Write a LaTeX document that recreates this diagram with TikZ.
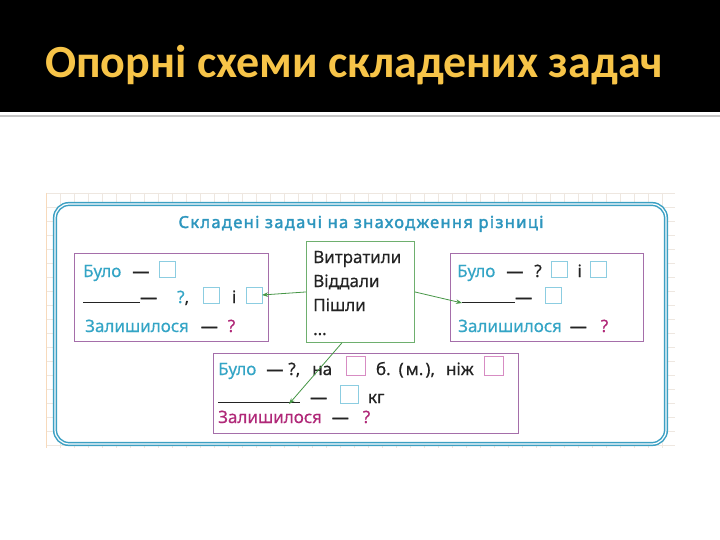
\documentclass[tikz,border=0pt]{standalone}
\usepackage{fontspec}
\setmainfont{Noto Sans}
\newfontfamily\titlefont{Carlito}
\usetikzlibrary{arrows.meta,calc}
\definecolor{gold}{RGB}{247,196,72}
\definecolor{tcyan}{RGB}{52,165,198}
\definecolor{hcyan}{RGB}{45,150,190}
\definecolor{tmag}{RGB}{176,40,120}
\definecolor{purp}{RGB}{165,110,170}
\definecolor{grn}{RGB}{110,175,110}
\definecolor{arrg}{RGB}{70,150,70}
\definecolor{sqc}{RGB}{140,205,225}
\definecolor{sqp}{RGB}{215,140,195}
\definecolor{gridc}{RGB}{238,231,224}
\definecolor{gridedge}{RGB}{247,218,188}
\definecolor{frameD}{RGB}{60,160,195}
\definecolor{tdark}{RGB}{35,35,35}
\newcommand\sqb[2][15pt]{{\setlength\fboxsep{0pt}\setlength\fboxrule{0.9pt}\fcolorbox{#2}{white}{\rule{0pt}{#1}\hspace{#1}}}}
\newcommand\dsh{{\addfontfeature{FakeBold=2.5}—}}
\newcommand\ul[1]{\rule{#1}{0.9pt}}
\tikzset{
  schbox/.style={draw=purp, line width=0.9pt, anchor=north west, inner sep=0pt},
  txt/.style={anchor=base west, inner sep=0pt, text=tdark, font=\fontsize{17}{20}\selectfont\addfontfeature{FakeBold=0.4}},
  arr/.style={draw=arrg, line width=0.8pt, -{Stealth[length=6pt,width=4.5pt]}}
}
\begin{document}
\begin{tikzpicture}[x=1pt,y=-1pt]
\useasboundingbox (0,0) rectangle (720,540);
\fill[white] (0,0) rectangle (720,540);
\fill[black] (0,0) rectangle (720,112);
\draw[gray!45, line width=2pt] (0,116) -- (720,116);
\node[anchor=base west, text=gold, font=\titlefont\bfseries\fontsize{46}{56}\selectfont, inner sep=0pt] (title) at (45,78) {Опорні схеми складених задач};
% grid paper
\foreach \x in {60,74,...,675} \draw[gridc, line width=0.6pt] (\x,193) -- (\x,448);
\foreach \y in {193,207,...,448} \draw[gridc, line width=0.6pt] (46,\y) -- (675,\y);
\draw[gridedge, line width=0.8pt] (46,193) -- (46,448);
% frame
\draw[frameD, line width=1.5pt, double=white, double distance=1.2pt, fill=white, rounded corners=14pt] (55,204) rectangle (666,444);
\node[anchor=base, text=hcyan, inner sep=0pt, font=\fontsize{16.5}{19}\selectfont\addfontfeature{FakeBold=2,LetterSpace=8}] (head) at (361,228) {Складені задачі на знаходження різниці};
% boxes
\node[schbox, minimum width=194pt, minimum height=88pt] (lbox) at (74,253) {};
\node[schbox, minimum width=193pt, minimum height=88pt] (rbox) at (450,253) {};
\node[schbox, minimum width=305pt, minimum height=80pt] (bbox) at (213,353) {};
\node[draw=grn, line width=0.9pt, anchor=north west, inner sep=0pt, minimum width=108pt, minimum height=101pt] (mid) at (306,241) {};
% middle text
\node[anchor=base west, inner sep=0pt, align=left, text=tdark, font=\fontsize{17}{24}\selectfont\addfontfeature{FakeBold=0.4}] (midtxt) at (313,335) {Витратили\\Віддали\\Пішли\\…};
% left box
\node[txt] (l1) at (83,277) {\textcolor{tcyan}{Було}\hspace{11pt}\dsh\hspace{10pt}\sqb{sqc}};
\node[txt] (l2) at (83,303) {\ul{57pt}\dsh\hspace{20pt}\textcolor{tcyan}{?},\hspace{14pt}\sqb{sqc}\hspace{12pt}і\hspace{10pt}\sqb{sqc}};
\node[txt] (l3) at (85,332) {\textcolor{tcyan}{Залишилося}\hspace{12pt}\dsh\hspace{10pt}\textcolor{tmag}{?}};
% right box
\node[txt] (r1) at (457,277) {\textcolor{tcyan}{Було}\hspace{11pt}\dsh\hspace{11pt}?\hspace{9pt}\sqb{sqc}\hspace{10pt}і\hspace{8pt}\sqb{sqc}};
\node[txt] (r2) at (462,303) {\ul{53pt}\dsh\hspace{13pt}\sqb{sqc}};
\node[txt] (r3) at (458,332) {\textcolor{tcyan}{Залишилося}\hspace{8pt}\dsh\hspace{14pt}\textcolor{tmag}{?}};
% bottom box
\node[txt] (b1) at (218,375) {\textcolor{tcyan}{Було}\hspace{10pt}\dsh\hspace{5pt}?,\hspace{12pt}на\hspace{14pt}\sqb[18pt]{sqp}\hspace{10pt}б.\hspace{8pt}(\hspace{2pt}м.\hspace{2pt}),\hspace{11pt}ніж\hspace{10pt}\sqb[18pt]{sqp}};
\node[txt] (b2) at (218,403) {\ul{82pt}\hspace{10pt}\dsh\hspace{13pt}\sqb[17pt]{sqc}\hspace{9pt}кг};
\node[txt] (b3) at (218,423) {\textcolor{tmag}{Залишилося}\hspace{10pt}\dsh\hspace{14pt}\textcolor{tmag}{?}};
% arrows
\coordinate (e1) at (262,295);
\coordinate (e2) at (462,303);
\coordinate (e3) at (289,404);
\draw[arr] (mid.west) -- (e1);
\draw[arr] (mid.east) -- (e2);
\draw[arr] (mid.250) -- (e3);
\end{tikzpicture}
\end{document}
